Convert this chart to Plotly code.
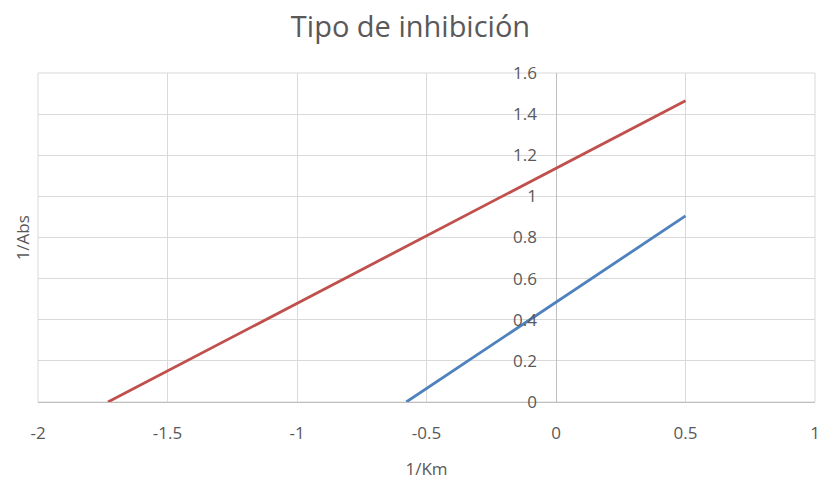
import plotly.graph_objects as go

# Data
series_names = ["Inhibida", "Sin inhibidor"]
red_x = [-1.73, 0.5]
red_y = [0.0, 1.465]
blue_x = [-0.578, 0.5]
blue_y = [0.0, 0.905]

x_ticks = [-2, -1.5, -1, -0.5, 0, 0.5, 1]
x_ticklabels = ["-2", "-1.5", "-1", "-0.5", "0", "0.5", "1"]
y_ticks = [0, 0.2, 0.4, 0.6, 0.8, 1, 1.2, 1.4, 1.6]
y_ticklabels = ["0", "0.2", "0.4", "0.6", "0.8", "1", "1.2", "1.4", "1.6"]

FONT = "Open Sans"
GRAY = "#595959"

fig = go.Figure()
fig.add_trace(go.Scatter(x=red_x, y=red_y, mode="lines", name=series_names[0],
                         line=dict(color="#C0504D", width=2.8)))
fig.add_trace(go.Scatter(x=blue_x, y=blue_y, mode="lines", name=series_names[1],
                         line=dict(color="#4F81BD", width=2.8)))

fig.update_layout(
    width=821, height=480,
    margin=dict(l=38, r=6, t=73, b=78, autoexpand=False),
    paper_bgcolor="white", plot_bgcolor="white",
    showlegend=False,
    font=dict(family=FONT, color=GRAY, size=17),
    title=dict(text="Tipo de inhibición", x=0.5, xanchor="center", y=0.944, yanchor="middle",
               font=dict(family=FONT, size=29, color=GRAY)),
    xaxis=dict(range=[-2, 1], tickvals=x_ticks, ticktext=x_ticklabels,
               automargin=False,
               showgrid=True, gridcolor="#d9d9d9", gridwidth=1,
               zeroline=True, zerolinecolor="#bfbfbf", zerolinewidth=1,
               showline=False, ticks="", ticklabelstandoff=19,
               tickfont=dict(size=17, color=GRAY),
               title=dict(text="1/Km", standoff=20, font=dict(size=17, color=GRAY))),
    yaxis=dict(range=[0, 1.6], tickvals=y_ticks, ticktext=y_ticklabels,
               automargin=False,
               anchor="free", position=2/3,
               showgrid=True, gridcolor="#d9d9d9", gridwidth=1,
               zeroline=True, zerolinecolor="#bfbfbf", zerolinewidth=1,
               showline=False, ticks="", ticklabelstandoff=19,
               tickfont=dict(size=17, color=GRAY)),
    annotations=[dict(text="1/Abs", xref="paper", yref="paper", x=-0.0195, y=0.5,
                      xanchor="center", yanchor="middle", textangle=-90, showarrow=False,
                      font=dict(size=17, color=GRAY, family=FONT))],
    shapes=[dict(type="rect", xref="paper", yref="paper", x0=0, x1=1, y0=0, y1=1,
                 line=dict(color="#d9d9d9", width=1), layer="below")],
)
fig.write_html("out.html", config={"displayModeBar": False},
               post_script="document.body.style.margin='0';document.body.style.overflow='hidden';")
